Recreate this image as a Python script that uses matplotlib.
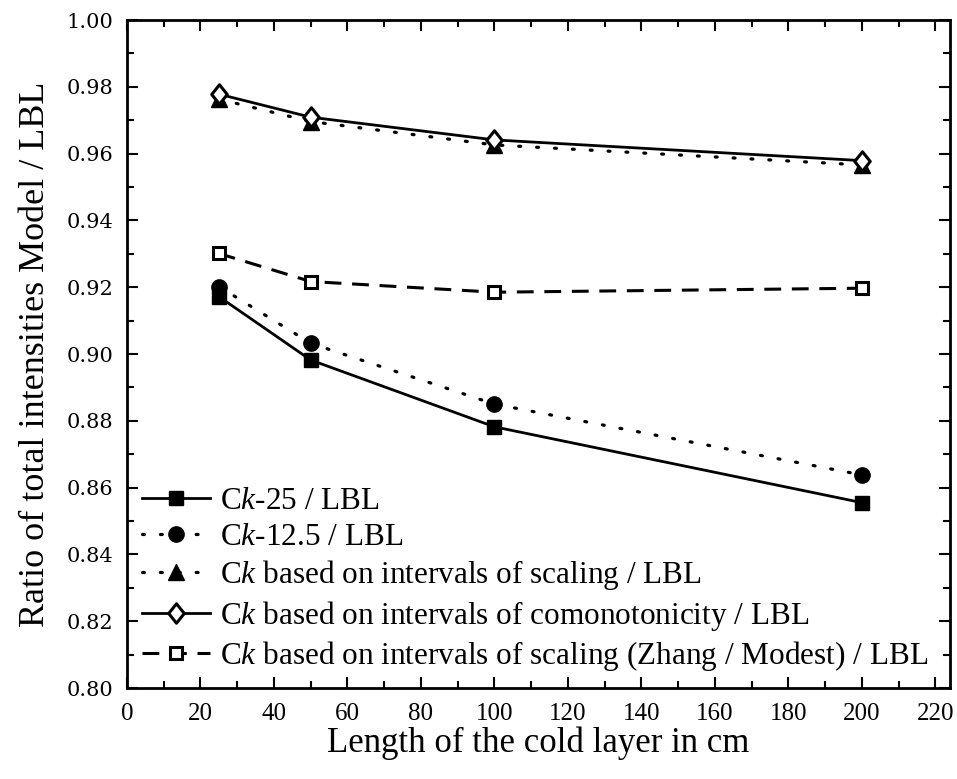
import numpy as np
import matplotlib

matplotlib.use("agg")
import matplotlib.pyplot as plt
from matplotlib.path import Path
from matplotlib.ticker import MultipleLocator

plt.rcParams["font.family"] = "Liberation Serif"
plt.rcParams["mathtext.fontset"] = "custom"
plt.rcParams["mathtext.rm"] = "Liberation Serif"
plt.rcParams["mathtext.it"] = "Liberation Serif:italic"

# layer length in cm
length = [25, 50, 100, 200]

ck25 = [0.9172, 0.8982, 0.8782, 0.8555]
ck125 = [0.9202, 0.9032, 0.8850, 0.8638]
ck_scaling = [0.9763, 0.9696, 0.9626, 0.9566]
ck_comono = [0.9778, 0.9709, 0.9641, 0.9579]
ck_zhang = [0.9301, 0.9217, 0.9185, 0.9197]

labels = [
    r"C$\it{k}$-25 / LBL",
    r"C$\it{k}$-12.5 / LBL",
    r"C$\it{k}$ based on intervals of scaling / LBL",
    r"C$\it{k}$ based on intervals of comonotonicity / LBL",
    r"C$\it{k}$ based on intervals of scaling (Zhang / Modest) / LBL",
]

xticks = np.arange(0, 221, 20)
yticks = np.arange(0.80, 1.001, 0.02)

# slightly narrow diamond like the original symbol
diamond = Path([(0, 1), (0.8, 0), (0, -1), (-0.8, 0), (0, 1)],
               [Path.MOVETO, Path.LINETO, Path.LINETO, Path.LINETO, Path.CLOSEPOLY])

fig = plt.figure(figsize=(9.57, 7.79), dpi=100)
ax = fig.add_axes([127 / 957, 1 - 688 / 779, 823 / 957, 668 / 779])

dots = (0.6, 5.0)
ax.plot(length, ck25, "-", color="k", lw=2.0, marker="s", ms=10, label=labels[0])
ax.plot(length, ck125, color="k", lw=2.3, dashes=dots, dash_capstyle="round",
        marker="o", ms=11, label=labels[1])
ax.plot(length, ck_scaling, color="k", lw=2.3, dashes=dots, dash_capstyle="round",
        marker="^", ms=12, label=labels[2])
ax.plot(length, ck_comono, "-", color="k", lw=2.0, marker=diamond, ms=14,
        mfc="white", mew=2.2, label=labels[3])
ax.plot(length, ck_zhang, color="k", lw=2.2, marker="s", ms=8,
        mfc="white", mew=2.2, dashes=(5.5, 3.5), label=labels[4])

ax.set_xlim(0, 224)
ax.set_ylim(0.80, 1.00)
ax.set_xticks(xticks)
ax.set_xticklabels([f"{v:d}" for v in xticks], fontsize=18,
                   fontfamily="Liberation Serif")
ax.set_yticks(yticks)
ax.set_yticklabels([f"{v:.2f}" for v in yticks], fontsize=15,
                   fontfamily="DejaVu Serif")
ax.xaxis.set_minor_locator(MultipleLocator(10))
ax.yaxis.set_minor_locator(MultipleLocator(0.01))

ax.tick_params(which="both", direction="in", top=True, right=True, width=1.5)
ax.tick_params(which="major", length=8)
ax.tick_params(which="minor", length=5)
ax.tick_params(axis="x", pad=11)
ax.tick_params(axis="y", pad=10)
for sp in ax.spines.values():
    sp.set_linewidth(2)

ax.set_xlabel("Length of the cold layer in cm", fontsize=25, labelpad=1)
ax.set_ylabel("Ratio of total intensities Model / LBL", fontsize=26, labelpad=10)

ax.legend(loc="lower left", frameon=False, fontsize=22.5, handlelength=2.2,
          handletextpad=0.3, labelspacing=0.21, borderaxespad=0.12,
          borderpad=0.35)

fig.savefig("out.png", dpi=100)
